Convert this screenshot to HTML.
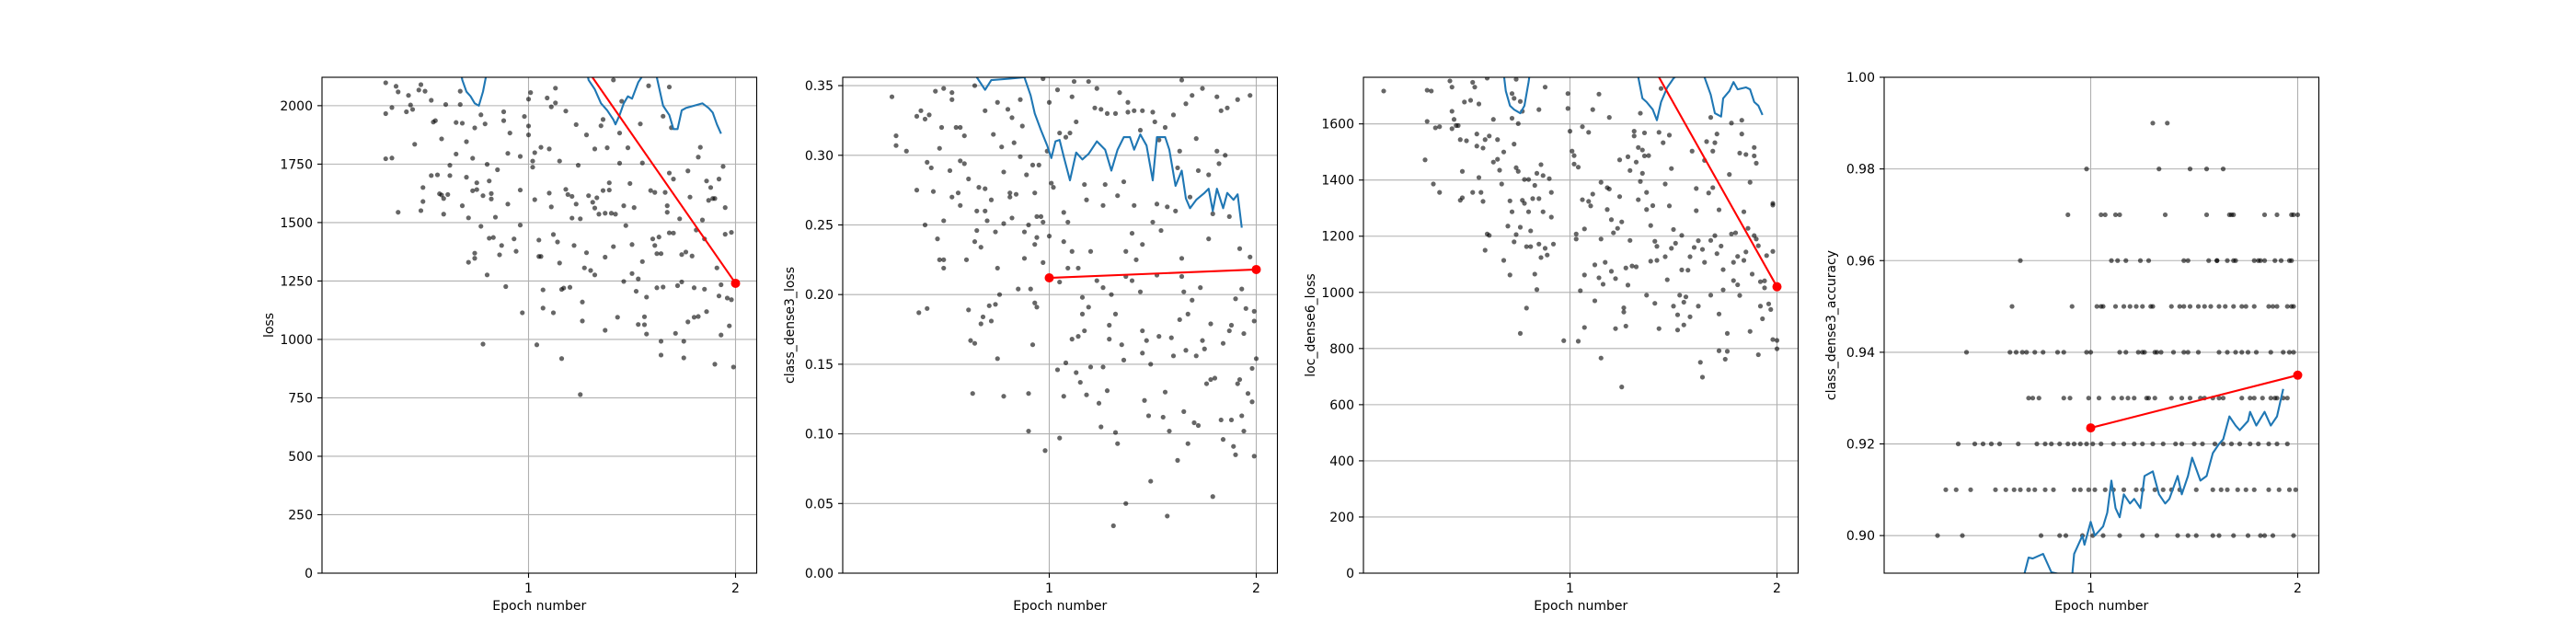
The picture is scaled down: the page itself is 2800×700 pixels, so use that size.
<!DOCTYPE html>
<html><head><meta charset="utf-8">
<style>
html,body{margin:0;padding:0;background:#fff;}
svg{display:block;font-family:"DejaVu Sans","Liberation Sans",sans-serif;}
</style></head>
<body>
<svg id="fig" width="2800" height="700" viewBox="0 0 2800 700" xmlns="http://www.w3.org/2000/svg">
<rect width="2800" height="700" fill="#fff"/>
</svg>
<script>
// ---------- shared ----------
const xTicks = [1, 2];
const redEpochs = [1, 2];

// ---------- plot 1: loss ----------
const lossYTicks = [0,250,500,750,1000,1250,1500,1750,2000];
const lossRed = [2515, 1240];
const lossBlueX = [0.31,0.5,0.66,0.68,0.70,0.72,0.74,0.76,0.78,0.80,0.82,0.9,1.1,1.27,1.29,1.32,1.35,1.38,1.41,1.42,1.44,1.46,1.48,1.50,1.53,1.56,1.60,1.62,1.65,1.68,1.70,1.72,1.74,1.76,1.80,1.84,1.87,1.89,1.91,1.93];
const lossBlueY = [2700,2500,2200,2110,2060,2040,2010,2000,2060,2150,2250,2500,2400,2200,2110,2070,2010,1980,1940,1920,1960,2010,2040,2030,2100,2140,2200,2120,2000,1960,1900,1900,1980,1990,2000,2010,1990,1970,1920,1880];
const lossPts = [[0.31,2098],[0.31,1966],[0.31,1773],[0.34,1776],[0.34,1992],[0.36,2083],[0.37,2059],[0.37,1544],[0.41,1974],[0.42,2044],[0.43,2003],[0.44,1984],[0.45,1835],[0.47,2067],[0.48,2090],[0.49,1650],[0.49,1590],[0.48,1551],[0.50,2062],[0.53,2023],[0.53,1701],[0.54,1930],[0.55,1936],[0.56,1704],[0.57,1623],[0.58,1618],[0.58,1858],[0.59,1603],[0.59,1536],[0.60,2005],[0.61,1620],[0.62,1745],[0.62,1701],[0.65,1928],[0.65,1793],[0.67,2062],[0.67,2005],[0.68,1572],[0.68,1925],[0.70,1694],[0.70,1846],[0.71,1520],[0.71,1330],[0.73,1636],[0.73,1775],[0.74,1369],[0.74,1347],[0.74,1905],[0.75,1641],[0.75,1670],[0.77,1961],[0.77,1484],[0.78,980],[0.78,1615],[0.79,1922],[0.80,1749],[0.80,1276],[0.81,1433],[0.81,1678],[0.82,1624],[0.82,1601],[0.83,1436],[0.84,1523],[0.85,1726],[0.86,1362],[0.87,1402],[0.88,1974],[0.88,1936],[0.89,1226],[0.90,1579],[0.90,1796],[0.91,1883],[0.93,1430],[0.94,1377],[0.96,1783],[0.96,1639],[0.96,1489],[0.97,1114],[0.98,1954],[1.00,1913],[1.00,1875],[1.00,2028],[1.01,2056],[1.02,1737],[1.02,1763],[1.03,1598],[1.03,1799],[1.04,977],[1.05,1355],[1.05,1425],[1.06,1822],[1.06,1355],[1.07,1134],[1.07,1212],[1.09,2033],[1.10,1815],[1.10,1626],[1.11,1995],[1.11,1567],[1.12,1449],[1.12,1114],[1.13,2012],[1.13,2075],[1.14,1417],[1.15,1327],[1.15,1763],[1.16,918],[1.16,1214],[1.17,1220],[1.18,1642],[1.18,1977],[1.19,1620],[1.20,1223],[1.21,1612],[1.21,1519],[1.22,1402],[1.23,1579],[1.23,1919],[1.24,1745],[1.25,764],[1.25,1516],[1.26,1160],[1.26,1079],[1.27,1306],[1.28,1371],[1.28,1875],[1.29,1615],[1.30,1295],[1.31,1587],[1.32,1276],[1.32,1815],[1.32,1562],[1.33,1606],[1.34,1536],[1.35,1914],[1.36,1941],[1.36,1637],[1.37,1039],[1.37,1540],[1.37,1352],[1.38,1820],[1.39,1670],[1.39,1639],[1.40,1540],[1.41,2110],[1.41,1397],[1.42,1536],[1.43,1095],[1.44,1883],[1.44,1754],[1.45,2019],[1.46,1248],[1.46,1572],[1.47,1487],[1.48,1820],[1.49,1667],[1.50,1406],[1.50,1282],[1.51,1564],[1.52,1206],[1.53,1064],[1.53,1259],[1.54,1922],[1.55,1333],[1.55,1755],[1.56,1097],[1.56,1063],[1.57,1023],[1.57,1181],[1.58,2085],[1.59,1637],[1.60,1430],[1.61,1402],[1.61,1629],[1.62,1367],[1.62,1221],[1.63,1438],[1.64,992],[1.64,933],[1.64,1367],[1.65,1224],[1.65,1955],[1.66,1629],[1.67,1572],[1.67,1544],[1.68,1712],[1.68,2080],[1.68,1456],[1.69,1906],[1.70,1455],[1.70,1686],[1.71,1026],[1.72,1230],[1.73,1516],[1.74,1363],[1.74,1246],[1.75,921],[1.75,992],[1.76,1374],[1.77,1075],[1.77,1721],[1.78,1609],[1.79,1357],[1.80,1095],[1.80,1221],[1.81,1468],[1.82,1780],[1.82,1098],[1.83,1822],[1.84,1511],[1.85,1215],[1.85,1430],[1.86,1678],[1.86,1119],[1.87,1595],[1.88,1650],[1.89,1603],[1.90,1603],[1.90,894],[1.91,1306],[1.92,1686],[1.92,1186],[1.93,1019],[1.93,1234],[1.94,1740],[1.95,1564],[1.95,1450],[1.96,1177],[1.97,1058],[1.98,1458],[1.98,1170],[1.99,882]];

// ---------- plot 2: class_dense3_loss ----------
const clsYTicks = [0,0.05,0.10,0.15,0.20,0.25,0.30,0.35];
const clsRed = [0.212, 0.218];
const clsBlueX = [0.31,0.5,0.62,0.65,0.69,0.72,0.81,0.88,0.91,0.93,0.96,0.99,1.01,1.03,1.05,1.07,1.10,1.13,1.16,1.19,1.23,1.27,1.30,1.33,1.36,1.39,1.41,1.44,1.47,1.50,1.52,1.56,1.58,1.61,1.64,1.66,1.68,1.71,1.75,1.77,1.79,1.81,1.84,1.86,1.89,1.91,1.93];
const clsBlueY = [0.40,0.38,0.365,0.356,0.347,0.354,0.355,0.356,0.343,0.330,0.318,0.307,0.298,0.310,0.311,0.299,0.282,0.302,0.297,0.301,0.310,0.304,0.289,0.304,0.313,0.313,0.304,0.315,0.307,0.282,0.313,0.313,0.304,0.278,0.289,0.269,0.262,0.268,0.273,0.276,0.260,0.276,0.262,0.273,0.268,0.272,0.248];
const clsPts = [[0.24,0.342],[0.26,0.314],[0.26,0.307],[0.31,0.303],[0.36,0.328],[0.36,0.275],[0.37,0.187],[0.38,0.332],[0.40,0.326],[0.40,0.250],[0.41,0.295],[0.41,0.190],[0.42,0.329],[0.43,0.291],[0.44,0.274],[0.45,0.346],[0.46,0.240],[0.47,0.225],[0.47,0.305],[0.48,0.320],[0.49,0.225],[0.49,0.219],[0.49,0.253],[0.49,0.348],[0.52,0.289],[0.53,0.340],[0.53,0.270],[0.53,0.345],[0.55,0.320],[0.56,0.273],[0.57,0.320],[0.57,0.296],[0.57,0.264],[0.59,0.294],[0.59,0.314],[0.60,0.225],[0.61,0.189],[0.61,0.283],[0.62,0.167],[0.63,0.129],[0.64,0.238],[0.64,0.165],[0.64,0.350],[0.65,0.260],[0.65,0.246],[0.66,0.277],[0.67,0.234],[0.67,0.179],[0.68,0.184],[0.69,0.332],[0.69,0.276],[0.69,0.260],[0.70,0.253],[0.71,0.192],[0.72,0.268],[0.72,0.181],[0.73,0.315],[0.74,0.245],[0.74,0.193],[0.75,0.338],[0.75,0.154],[0.75,0.219],[0.76,0.200],[0.77,0.306],[0.78,0.251],[0.78,0.127],[0.78,0.288],[0.80,0.333],[0.81,0.270],[0.81,0.273],[0.82,0.255],[0.82,0.327],[0.83,0.309],[0.84,0.272],[0.85,0.204],[0.86,0.299],[0.86,0.340],[0.87,0.321],[0.88,0.245],[0.88,0.226],[0.89,0.286],[0.90,0.102],[0.90,0.129],[0.90,0.250],[0.91,0.204],[0.92,0.164],[0.92,0.293],[0.93,0.236],[0.93,0.273],[0.93,0.194],[0.94,0.256],[0.94,0.241],[0.94,0.191],[0.95,0.293],[0.96,0.256],[0.97,0.252],[0.97,0.355],[0.97,0.223],[0.98,0.088],[0.99,0.303],[1.00,0.338],[1.00,0.242],[1.01,0.280],[1.02,0.277],[1.04,0.347],[1.04,0.146],[1.05,0.316],[1.05,0.209],[1.05,0.097],[1.07,0.238],[1.07,0.127],[1.07,0.259],[1.08,0.151],[1.08,0.313],[1.09,0.252],[1.09,0.219],[1.10,0.316],[1.11,0.342],[1.11,0.168],[1.11,0.231],[1.12,0.353],[1.13,0.144],[1.13,0.324],[1.14,0.170],[1.14,0.219],[1.15,0.137],[1.16,0.186],[1.16,0.198],[1.17,0.279],[1.17,0.174],[1.18,0.128],[1.18,0.268],[1.19,0.353],[1.19,0.191],[1.20,0.231],[1.20,0.148],[1.22,0.334],[1.23,0.210],[1.23,0.348],[1.24,0.122],[1.25,0.333],[1.25,0.105],[1.26,0.264],[1.26,0.205],[1.26,0.148],[1.27,0.279],[1.28,0.330],[1.28,0.131],[1.29,0.178],[1.29,0.168],[1.30,0.200],[1.31,0.034],[1.32,0.330],[1.32,0.186],[1.32,0.101],[1.33,0.271],[1.33,0.093],[1.34,0.345],[1.35,0.164],[1.36,0.281],[1.36,0.153],[1.37,0.213],[1.37,0.050],[1.37,0.231],[1.38,0.338],[1.38,0.331],[1.40,0.244],[1.40,0.210],[1.41,0.264],[1.41,0.332],[1.42,0.225],[1.44,0.318],[1.44,0.202],[1.45,0.158],[1.45,0.332],[1.45,0.236],[1.45,0.174],[1.46,0.124],[1.47,0.167],[1.48,0.113],[1.49,0.066],[1.49,0.150],[1.50,0.252],[1.50,0.331],[1.51,0.324],[1.52,0.265],[1.52,0.214],[1.53,0.170],[1.53,0.311],[1.54,0.246],[1.55,0.112],[1.56,0.130],[1.56,0.320],[1.57,0.263],[1.57,0.041],[1.58,0.102],[1.59,0.169],[1.60,0.329],[1.60,0.156],[1.61,0.260],[1.62,0.081],[1.62,0.291],[1.63,0.303],[1.63,0.182],[1.64,0.226],[1.64,0.213],[1.64,0.354],[1.65,0.116],[1.65,0.202],[1.66,0.160],[1.66,0.337],[1.67,0.186],[1.67,0.093],[1.68,0.270],[1.69,0.343],[1.69,0.196],[1.70,0.108],[1.71,0.156],[1.71,0.312],[1.72,0.106],[1.72,0.289],[1.73,0.205],[1.74,0.348],[1.74,0.167],[1.75,0.161],[1.76,0.136],[1.77,0.286],[1.77,0.240],[1.78,0.139],[1.78,0.179],[1.79,0.258],[1.79,0.055],[1.80,0.140],[1.81,0.303],[1.81,0.342],[1.82,0.294],[1.83,0.110],[1.83,0.332],[1.84,0.165],[1.84,0.096],[1.85,0.300],[1.86,0.334],[1.87,0.256],[1.87,0.174],[1.88,0.178],[1.88,0.110],[1.89,0.091],[1.90,0.197],[1.90,0.085],[1.91,0.136],[1.91,0.340],[1.92,0.139],[1.92,0.233],[1.93,0.113],[1.93,0.204],[1.94,0.102],[1.94,0.172],[1.95,0.190],[1.96,0.129],[1.97,0.343],[1.97,0.227],[1.98,0.147],[1.98,0.123],[1.99,0.188],[1.99,0.181],[1.99,0.084],[2.00,0.154]];

// ---------- plot 3: loc_dense6_loss ----------
const locYTicks = [0,200,400,600,800,1000,1200,1400,1600];
const locRed = [2329, 1020];
const locBlueX = [0.31,0.5,0.66,0.69,0.71,0.73,0.76,0.78,0.80,0.81,0.9,1.1,1.3,1.33,1.35,1.37,1.40,1.42,1.44,1.47,1.50,1.52,1.55,1.6,1.65,1.68,1.70,1.73,1.74,1.77,1.79,1.81,1.85,1.87,1.89,1.91,1.93];
const locBlueY = [2400,2200,1900,1717,1665,1651,1638,1665,1749,1800,2000,2000,1850,1766,1691,1678,1651,1613,1678,1730,1762,1775,1850,1900,1766,1704,1638,1626,1691,1717,1749,1723,1730,1723,1678,1665,1632];
const locPts = [[0.10,1717],[0.31,1720],[0.33,1717],[0.31,1609],[0.30,1472],[0.34,1386],[0.35,1586],[0.37,1356],[0.37,1590],[0.42,1753],[0.43,1731],[0.43,1645],[0.44,1616],[0.43,1583],[0.45,1594],[0.46,1594],[0.47,1544],[0.48,1431],[0.47,1328],[0.48,1337],[0.49,1678],[0.50,1540],[0.52,1684],[0.53,1748],[0.54,1731],[0.53,1356],[0.55,1564],[0.55,1521],[0.56,1671],[0.56,1409],[0.57,1356],[0.58,1514],[0.58,1324],[0.59,1544],[0.59,1150],[0.60,1208],[0.61,1203],[0.60,1763],[0.61,1557],[0.63,1616],[0.63,1464],[0.65,1474],[0.65,1544],[0.66,1435],[0.67,1386],[0.68,1114],[0.68,1500],[0.70,1236],[0.71,1326],[0.71,1062],[0.72,1708],[0.72,1620],[0.72,1287],[0.73,1528],[0.73,1691],[0.73,1180],[0.74,1206],[0.74,1759],[0.74,1444],[0.75,1601],[0.75,1431],[0.76,1680],[0.76,1232],[0.76,854],[0.77,1328],[0.77,1645],[0.78,1402],[0.78,1317],[0.79,944],[0.79,1163],[0.80,1402],[0.80,1287],[0.81,1219],[0.81,1163],[0.82,1334],[0.83,1065],[0.83,1381],[0.84,1424],[0.84,1010],[0.85,1172],[0.85,1651],[0.85,1334],[0.86,1124],[0.86,1455],[0.87,1416],[0.87,1287],[0.88,1731],[0.88,1157],[0.89,1133],[0.90,1405],[0.91,1356],[0.91,1268],[0.92,1172],[0.97,828],[0.99,1708],[0.99,1655],[1.00,1574],[1.01,1503],[1.02,1457],[1.02,1487],[1.03,1208],[1.03,1190],[1.04,1446],[1.04,826],[1.05,1006],[1.06,1330],[1.06,1590],[1.07,1226],[1.07,875],[1.07,1062],[1.09,1570],[1.09,1324],[1.10,1308],[1.11,1651],[1.11,1350],[1.12,1098],[1.12,970],[1.14,1706],[1.14,1052],[1.15,1190],[1.15,1392],[1.15,766],[1.16,1029],[1.17,1107],[1.18,1373],[1.18,1295],[1.19,1623],[1.19,1368],[1.20,1075],[1.20,1259],[1.21,1212],[1.22,871],[1.22,1049],[1.23,1228],[1.24,1472],[1.24,1341],[1.25,663],[1.25,1251],[1.26,945],[1.26,930],[1.27,1087],[1.27,880],[1.28,1026],[1.28,1483],[1.29,1434],[1.29,1185],[1.30,1094],[1.31,1557],[1.31,1574],[1.32,1091],[1.32,1464],[1.33,1330],[1.33,1516],[1.34,1638],[1.34,1395],[1.35,1424],[1.35,1507],[1.36,1568],[1.36,1486],[1.37,1356],[1.37,990],[1.37,1295],[1.38,1487],[1.39,1238],[1.39,1111],[1.40,1309],[1.41,1182],[1.41,961],[1.42,1114],[1.42,1164],[1.43,871],[1.43,1570],[1.44,1726],[1.45,1533],[1.46,1386],[1.46,1127],[1.47,1045],[1.48,1308],[1.48,1560],[1.49,1441],[1.49,1157],[1.50,951],[1.50,1224],[1.51,1175],[1.52,920],[1.52,866],[1.53,990],[1.54,1203],[1.54,1080],[1.55,884],[1.55,965],[1.56,984],[1.57,1079],[1.58,913],[1.58,1127],[1.59,1503],[1.60,1160],[1.61,1370],[1.61,1291],[1.62,951],[1.62,1184],[1.63,751],[1.64,698],[1.64,1153],[1.65,1107],[1.65,1470],[1.66,1537],[1.67,1354],[1.68,1623],[1.68,990],[1.68,1185],[1.69,1503],[1.69,1373],[1.70,1533],[1.70,1202],[1.71,1138],[1.71,1564],[1.72,923],[1.72,1294],[1.72,792],[1.73,1165],[1.74,1009],[1.74,1081],[1.75,762],[1.76,854],[1.76,790],[1.77,1420],[1.78,1603],[1.78,1208],[1.79,1107],[1.79,1042],[1.80,1212],[1.81,1027],[1.81,1128],[1.82,1496],[1.82,989],[1.83,1613],[1.83,1564],[1.84,1287],[1.84,1114],[1.85,1144],[1.85,1491],[1.86,1228],[1.87,861],[1.87,1392],[1.88,1065],[1.89,1202],[1.89,1516],[1.89,1486],[1.90,1190],[1.90,1460],[1.91,778],[1.91,1166],[1.92,1038],[1.92,951],[1.93,906],[1.94,1041],[1.94,1016],[1.95,1131],[1.96,959],[1.97,939],[1.98,832],[1.98,1311],[1.98,1317],[1.98,1146],[2.00,799],[2.00,829]];

// ---------- plot 4: class_dense3_accuracy ----------
const accYTicks = [0.90,0.92,0.94,0.96,0.98,1.00];
const accRed = [0.9235, 0.935];
const accBlueX = [0.31,0.6,0.68,0.70,0.72,0.77,0.81,0.91,0.92,0.96,0.97,1.00,1.02,1.06,1.08,1.10,1.12,1.14,1.16,1.19,1.21,1.24,1.26,1.30,1.33,1.36,1.38,1.42,1.44,1.47,1.49,1.53,1.56,1.59,1.62,1.64,1.67,1.70,1.72,1.76,1.77,1.80,1.84,1.87,1.90,1.93];
const accBlueY = [0.87,0.88,0.8917,0.8952,0.895,0.896,0.892,0.891,0.896,0.900,0.898,0.903,0.900,0.902,0.905,0.912,0.906,0.904,0.909,0.907,0.908,0.906,0.913,0.914,0.909,0.907,0.908,0.913,0.909,0.913,0.917,0.912,0.913,0.918,0.920,0.921,0.926,0.924,0.923,0.925,0.927,0.924,0.927,0.924,0.926,0.932];
const accLevels = [0.99,0.98,0.97,0.96,0.95,0.94,0.93,0.92,0.91,0.90];
const accLevelX = [
 [1.30,1.37],
 [0.98,1.33,1.48,1.56,1.64],
 [0.89,1.05,1.07,1.12,1.14,1.36,1.56,1.67,1.68,1.69,1.84,1.90,1.97,1.98,2.00],
 [0.66,1.10,1.13,1.17,1.24,1.28,1.45,1.47,1.57,1.61,1.61,1.66,1.69,1.70,1.79,1.81,1.82,1.84,1.89,1.92,1.96,1.97],
 [0.62,0.91,1.03,1.05,1.06,1.12,1.16,1.19,1.22,1.25,1.29,1.30,1.39,1.43,1.45,1.48,1.52,1.55,1.58,1.62,1.65,1.69,1.73,1.75,1.79,1.86,1.88,1.90,1.95,1.97,1.98],
 [0.40,0.61,0.64,0.67,0.69,0.73,0.77,0.84,0.87,0.98,1.00,1.14,1.17,1.23,1.25,1.26,1.31,1.32,1.34,1.40,1.45,1.47,1.52,1.62,1.66,1.70,1.73,1.76,1.80,1.87,1.93,1.96,1.98],
 [0.70,0.72,0.75,0.87,0.90,0.99,1.04,1.11,1.15,1.18,1.21,1.27,1.28,1.31,1.39,1.44,1.48,1.53,1.55,1.59,1.62,1.64,1.73,1.77,1.79,1.83,1.87,1.89,1.90,1.93,1.95],
 [0.36,0.44,0.48,0.52,0.56,0.65,0.74,0.78,0.81,0.85,0.89,0.92,0.95,0.98,1.01,1.05,1.11,1.16,1.21,1.25,1.30,1.35,1.41,1.44,1.50,1.54,1.60,1.64,1.68,1.72,1.77,1.81,1.86,1.90,1.95],
 [0.30,0.35,0.42,0.54,0.59,0.63,0.66,0.70,0.73,0.78,0.82,0.92,0.95,0.99,1.02,1.07,1.11,1.16,1.22,1.25,1.31,1.35,1.39,1.43,1.51,1.59,1.63,1.66,1.71,1.75,1.79,1.86,1.91,1.96,1.99],
 [0.26,0.38,0.76,0.85,0.88,0.96,1.01,1.06,1.14,1.25,1.32,1.42,1.47,1.51,1.59,1.62,1.69,1.76,1.82,1.84,1.88,1.98]
];

// ---------- rendering ----------
const NS = "http://www.w3.org/2000/svg";
const fig = document.getElementById('fig');
const TOP = 84, BOT = 623, AW = 472.5, UNIT = 225, X1OFF = 224.5;

function mk(tag, attrs, parent) {
  const e = document.createElementNS(NS, tag);
  for (const k in attrs) e.setAttribute(k, attrs[k]);
  (parent || fig).appendChild(e);
  return e;
}

function drawPanel(idx, left, yMin, yMax, yTicks, fmt, yLabel, labelOff, pts, blueX, blueY, red) {
  const g = mk('g', {});
  
  
  const xs = v => left + X1OFF + (v - 1) * UNIT;
  const ys = v => BOT - (v - yMin) / (yMax - yMin) * (BOT - TOP);
  const cid = 'clip' + idx;
  const cp = mk('clipPath', {id: cid}, g);
  mk('rect', {x: left, y: TOP, width: AW, height: BOT - TOP}, cp);

  // grid
  const grid = mk('g', {stroke: '#b0b0b0', 'stroke-width': 1.1}, g);
  
  
  xTicks.forEach(t => mk('line', {x1: xs(t), x2: xs(t), y1: TOP, y2: BOT}, grid));
  yTicks.forEach(t => mk('line', {x1: left, x2: left + AW, y1: ys(t), y2: ys(t)}, grid));

  const plot = mk('g', {'clip-path': 'url(#' + cid + ')'}, g);
  // scatter
  const sc = mk('g', {fill: '#000', 'fill-opacity': 0.6}, plot);
  
  
  pts.forEach(p => {
    const c = mk('circle', {cx: xs(p[0]), cy: ys(p[1]), r: 2.6}, sc);
    
    
  });
  // blue running mean
  const bl = mk('polyline', {points: blueX.map((x, i) => xs(x) + ',' + ys(blueY[i])).join(' '), fill: 'none', stroke: '#1f77b4', 'stroke-width': 2.1, 'stroke-linejoin': 'round'}, plot);
  
  
  // red epoch line
  const rl = mk('polyline', {points: redEpochs.map((x, i) => xs(x) + ',' + ys(red[i])).join(' '), fill: 'none', stroke: '#ff0000', 'stroke-width': 2.1}, plot);
  
  
  redEpochs.forEach((x, i) => {
    const m = mk('circle', {cx: xs(x), cy: ys(red[i]), r: 5, fill: '#ff0000'}, g);
    
    
    if (red[i] > yMax || red[i] < yMin) m.setAttribute('display', 'none');
  });

  // frame
  const fr = mk('rect', {x: left, y: TOP, width: AW, height: BOT - TOP, fill: 'none', stroke: '#000', 'stroke-width': 1.1}, g);
  
  

  // ticks
  xTicks.forEach(t => {
    mk('line', {x1: xs(t), x2: xs(t), y1: BOT, y2: BOT + 5, stroke: '#000', 'stroke-width': 1.1}, g);
    const tl = mk('text', {x: xs(t), y: BOT + 21, 'text-anchor': 'middle', 'font-size': 14}, g);
    tl.textContent = String(t);
    
    
  });
  yTicks.forEach(t => {
    mk('line', {x1: left - 5, x2: left, y1: ys(t), y2: ys(t), stroke: '#000', 'stroke-width': 1.1}, g);
    const tl = mk('text', {x: left - 10, y: ys(t) + 5, 'text-anchor': 'end', 'font-size': 14}, g);
    tl.textContent = fmt(t);
    
    
  });
  const xl = mk('text', {x: left + AW / 2, y: BOT + 40, 'text-anchor': 'middle', 'font-size': 14}, g);
  xl.textContent = 'Epoch number';
  
  
  const cx = left - labelOff, cy = (TOP + BOT) / 2;
  const yl = mk('text', {x: cx, y: cy, 'text-anchor': 'middle', 'font-size': 14, transform: 'rotate(-90 ' + cx + ' ' + cy + ')'}, g);
  yl.textContent = yLabel;
  
  
}

const accPts = [];
accLevels.forEach((lv, i) => accLevelX[i].forEach(x => accPts.push([x, lv])));

drawPanel(1, 350, 0, 2121.5, lossYTicks, v => String(v), 'loss', 53, lossPts, lossBlueX, lossBlueY, lossRed);
drawPanel(2, 916, 0, 0.356, clsYTicks, v => v.toFixed(2), 'class_dense3_loss', 53, clsPts, clsBlueX, clsBlueY, clsRed);
drawPanel(3, 1482, 0, 1766, locYTicks, v => String(v), 'loc_dense6_loss', 53, locPts, locBlueX, locBlueY, locRed);
drawPanel(4, 2048, 0.8918, 1.0, accYTicks, v => v.toFixed(2), 'class_dense3_accuracy', 53, accPts, accBlueX, accBlueY, accRed);
</script>
</body></html>
